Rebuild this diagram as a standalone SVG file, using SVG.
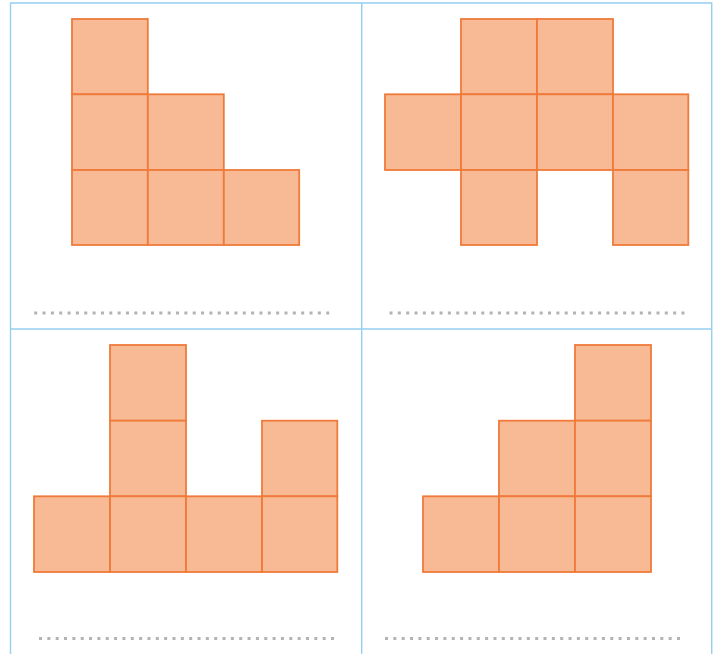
<svg xmlns="http://www.w3.org/2000/svg" width="718" height="654" viewBox="0 0 718 654">
<style>
.grid{fill:none;stroke:#94d0ef;stroke-width:1.4}
.sq{fill:#f8ba94;stroke:#f07a3a;stroke-width:1.8}
.dots{fill:none;stroke:#b3b3b3;stroke-width:3;stroke-dasharray:3 5.343}
</style>
<rect width="718" height="654" fill="#ffffff"/>
<g id="frame">
<path class="grid" d="M10.5,660 V3 H711.7 V660 M361.7,3 V660 M10.5,329 H711.7"/>
</g>
<g id="cell-top-left">
<rect class="sq" x="72" y="19" width="75.8" height="75.3"/>
<rect class="sq" x="72" y="94.3" width="75.8" height="75.7"/>
<rect class="sq" x="147.8" y="94.3" width="76" height="75.7"/>
<rect class="sq" x="72" y="170" width="75.8" height="75"/>
<rect class="sq" x="147.8" y="170" width="76" height="75"/>
<rect class="sq" x="223.8" y="170" width="75.4" height="75"/>
<path class="dots" d="M34.2,313 H329.2"/>
</g>
<g id="cell-top-right">
<rect class="sq" x="461" y="19" width="76" height="75.3"/>
<rect class="sq" x="537" y="19" width="76" height="75.3"/>
<rect class="sq" x="385" y="94.3" width="76" height="75.7"/>
<rect class="sq" x="461" y="94.3" width="76" height="75.7"/>
<rect class="sq" x="537" y="94.3" width="76" height="75.7"/>
<rect class="sq" x="613" y="94.3" width="75.3" height="75.7"/>
<rect class="sq" x="461" y="170" width="76" height="75"/>
<rect class="sq" x="613" y="170" width="75.3" height="75"/>
<path class="dots" d="M389.5,313 H684.5"/>
</g>
<g id="cell-bottom-left">
<rect class="sq" x="110" y="345" width="76" height="75.7"/>
<rect class="sq" x="110" y="420.7" width="76" height="75.6"/>
<rect class="sq" x="262" y="420.7" width="75.3" height="75.6"/>
<rect class="sq" x="34" y="496.3" width="76" height="75.7"/>
<rect class="sq" x="110" y="496.3" width="76" height="75.7"/>
<rect class="sq" x="186" y="496.3" width="76" height="75.7"/>
<rect class="sq" x="262" y="496.3" width="75.3" height="75.7"/>
<path class="dots" d="M39,638.5 H334"/>
</g>
<g id="cell-bottom-right">
<rect class="sq" x="575" y="345" width="76" height="75.7"/>
<rect class="sq" x="499" y="420.7" width="76" height="75.6"/>
<rect class="sq" x="575" y="420.7" width="76" height="75.6"/>
<rect class="sq" x="423" y="496.3" width="76" height="75.7"/>
<rect class="sq" x="499" y="496.3" width="76" height="75.7"/>
<rect class="sq" x="575" y="496.3" width="76" height="75.7"/>
<path class="dots" d="M385,638.5 H680"/>
</g>
</svg>
